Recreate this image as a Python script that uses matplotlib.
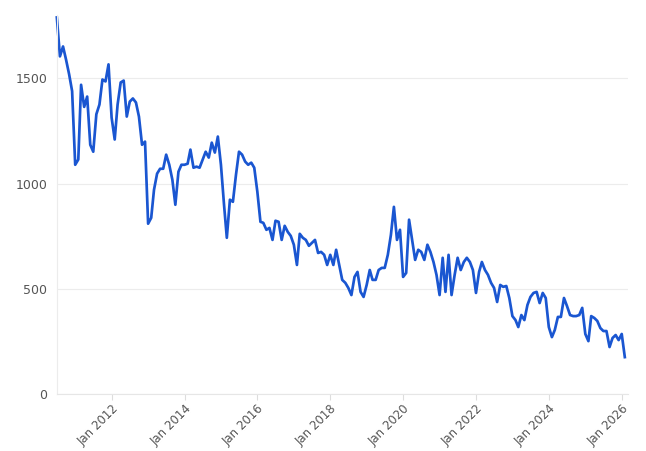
import numpy as np
import pandas as pd
import matplotlib
matplotlib.use('Agg')
import matplotlib.pyplot as plt
import matplotlib.dates as mdates

# monthly values, Jul 2010 .. Feb 2026
values = [1790, 1605, 1652, 1590, 1520, 1440, 1090, 1115, 1470, 1365,
          1414, 1185, 1152, 1330, 1376, 1495, 1486, 1567, 1314, 1210,
          1376, 1481, 1490, 1319, 1390, 1405, 1386, 1319, 1185, 1200,
          810, 838, 971, 1048, 1071, 1071, 1138, 1090, 1019, 900,
          1057, 1090, 1090, 1095, 1162, 1076, 1081, 1076, 1114, 1152,
          1124, 1195, 1148, 1224, 1090, 900, 743, 924, 914, 1043,
          1152, 1138, 1105, 1090, 1100, 1076, 962, 819, 814, 781,
          790, 733, 824, 819, 733, 800, 771, 752, 710, 614,
          762, 743, 733, 705, 719, 733, 671, 676, 662, 614,
          662, 614, 686, 614, 543, 529, 505, 471, 557, 581,
          486, 462, 519, 590, 543, 543, 590, 600, 600, 662,
          757, 890, 733, 781, 557, 576, 829, 733, 638, 686,
          676, 638, 710, 676, 628, 567, 471, 648, 486, 662,
          471, 567, 648, 590, 628, 648, 628, 590, 481, 581,
          628, 590, 567, 529, 505, 438, 519, 510, 514, 457,
          371, 352, 319, 376, 352, 424, 462, 481, 486, 433,
          481, 457, 319, 271, 305, 367, 367, 457, 419, 376,
          371, 371, 376, 410, 286, 252, 371, 362, 348, 314,
          300, 300, 224, 267, 281, 257, 286, 176]
dates = pd.date_range('2010-07-01', periods=len(values), freq='MS')

yticks = [0, 500, 1000, 1500]
xtick_years = list(range(2012, 2027, 2))

fig = plt.figure(figsize=(6.46, 4.51), dpi=100)
ax = fig.add_axes([0.088, 0.126, 0.884, 0.84])

ax.plot(dates, values, color='#1a56d1', lw=1.95, solid_joinstyle='round',
        clip_on=False)

ax.set_ylim(0, 1800)
ax.set_xlim(dates[0], dates[-1] + pd.Timedelta(days=31))
ax.set_yticks(yticks)
ax.set_yticklabels([str(v) for v in yticks])
ax.set_xticks([pd.Timestamp(f'{y}-01-01') for y in xtick_years])
ax.set_xticklabels([f'Jan {y}' for y in xtick_years], rotation=45,
                   ha='right', rotation_mode='anchor')

ax.grid(axis='y', color='#ececec', lw=0.8)
ax.set_axisbelow(True)
for s in ['top', 'right']:
    ax.spines[s].set_visible(False)
ax.spines['left'].set_color('#ececec')
ax.spines['bottom'].set_color('#e6e6e6')
ax.tick_params(axis='y', length=0, pad=7, labelsize=9, labelcolor='#555555')
ax.tick_params(axis='x', length=4, color='#dddddd', pad=2, labelsize=8.5,
               labelcolor='#555555')

fig.savefig('out.png', dpi=100)
